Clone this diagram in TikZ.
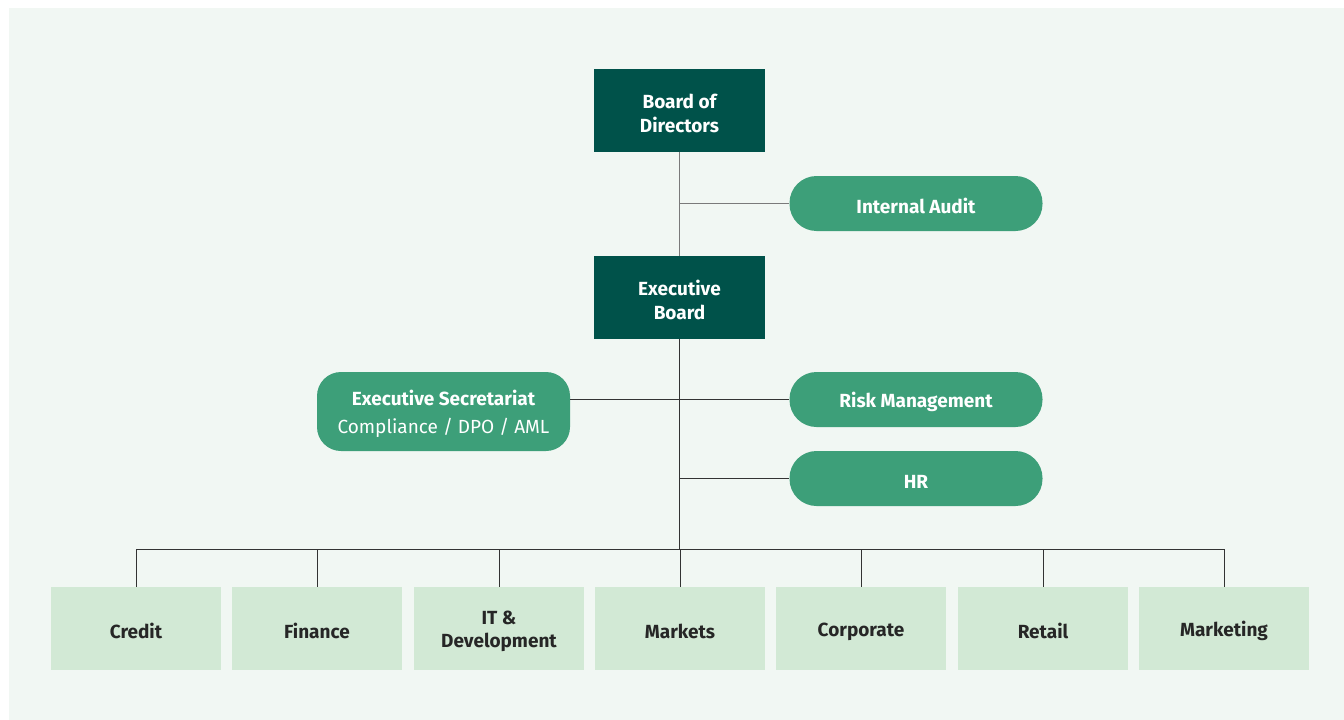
\documentclass[tikz,border=0pt]{standalone}
\usepackage{fontspec}
\setmainfont{Fira Sans}
\newcommand{\tstrut}{\rule[-1pt]{0pt}{21pt}}
\begin{document}
\begin{tikzpicture}[x=1pt,y=-1pt,
  darkbox/.style={fill=darkgreen,text=white,minimum width=171pt,minimum height=83pt,inner sep=0pt,align=center,font=\fontsize{19}{24}\selectfont\bfseries},
  pill/.style={fill=midgreen,text=white,rounded corners=27pt,minimum width=253pt,minimum height=55pt,inner sep=0pt,align=center,font=\fontsize{19}{24}\selectfont\bfseries},
  secbox/.style={fill=midgreen,text=white,rounded corners=24pt,minimum width=253pt,minimum height=79pt,inner sep=0pt,align=center,font=\fontsize{19}{28}\selectfont},
  dept/.style={fill=lightgreen,text=textdark,minimum width=170pt,minimum height=83pt,inner sep=0pt,align=center,font=\fontsize{19}{23}\selectfont\bfseries},
  conn/.style={draw=linedark,line width=1pt},
  connv/.style={draw=linegray,line width=1.6pt}
]
\definecolor{darkgreen}{HTML}{00524A}
\definecolor{midgreen}{HTML}{3D9F79}
\definecolor{lightgreen}{HTML}{D2E9D5}
\definecolor{bgpanel}{HTML}{F1F7F3}
\definecolor{textdark}{HTML}{262626}
\definecolor{linedark}{HTML}{333333}
\definecolor{linegray}{HTML}{7A7A7A}
\useasboundingbox (0,0) rectangle (1344,720);
\fill[white] (0,0) rectangle (1344,720);
\fill[bgpanel] (9,8) rectangle (1344,720);

\node[darkbox] (bod) at (679.5,110.5) {\tstrut Board of\\\tstrut Directors};
\node[darkbox] (exb) at (679.5,297.5) {\tstrut Executive\\\tstrut Board};
\node[pill] (ia) at (916,203.5) {\tstrut Internal Audit};
\node[secbox] (sec) at (443.5,411.5) {\tstrut\bfseries Executive Secretariat\\\tstrut Compliance / DPO / AML};
\node[pill] (risk) at (916,399.5) {\tstrut Risk Management};
\node[pill] (hr) at (916,478.5) {\tstrut HR};

\node[dept] (d1) at (136,628.5) {\tstrut Credit};
\node[dept] (d2) at (317,628.5) {\tstrut Finance};
\node[dept] (d3) at (499,628.5) {\tstrut IT \&\\\tstrut Development};
\node[dept] (d4) at (680,628.5) {\tstrut Markets};
\node[dept] (d5) at (861,628.5) {\tstrut Corporate};
\node[dept] (d6) at (1043,628.5) {\tstrut Retail};
\node[dept] (d7) at (1224,628.5) {\tstrut Marketing};

\coordinate (bus) at (680,549);
\coordinate (iaj) at (bod.south |- ia.west);
\coordinate (hrj) at (bod.south |- hr.west);

\draw[connv] (bod.south) -- (exb.north);
\draw[connv] (iaj) -- (ia.west);
\draw[conn] (exb.south) -- (exb.south |- bus);
\draw[conn] (sec.east |- risk.west) -- (risk.west);
\draw[conn] (hrj) -- (hr.west);
\draw[conn] (d1.north |- bus) -- (d7.north |- bus);
\foreach \d in {d1,d2,d3,d4,d5,d6,d7} {
  \draw[conn] (\d.north |- bus) -- (\d.north);
}
\end{tikzpicture}
\end{document}
